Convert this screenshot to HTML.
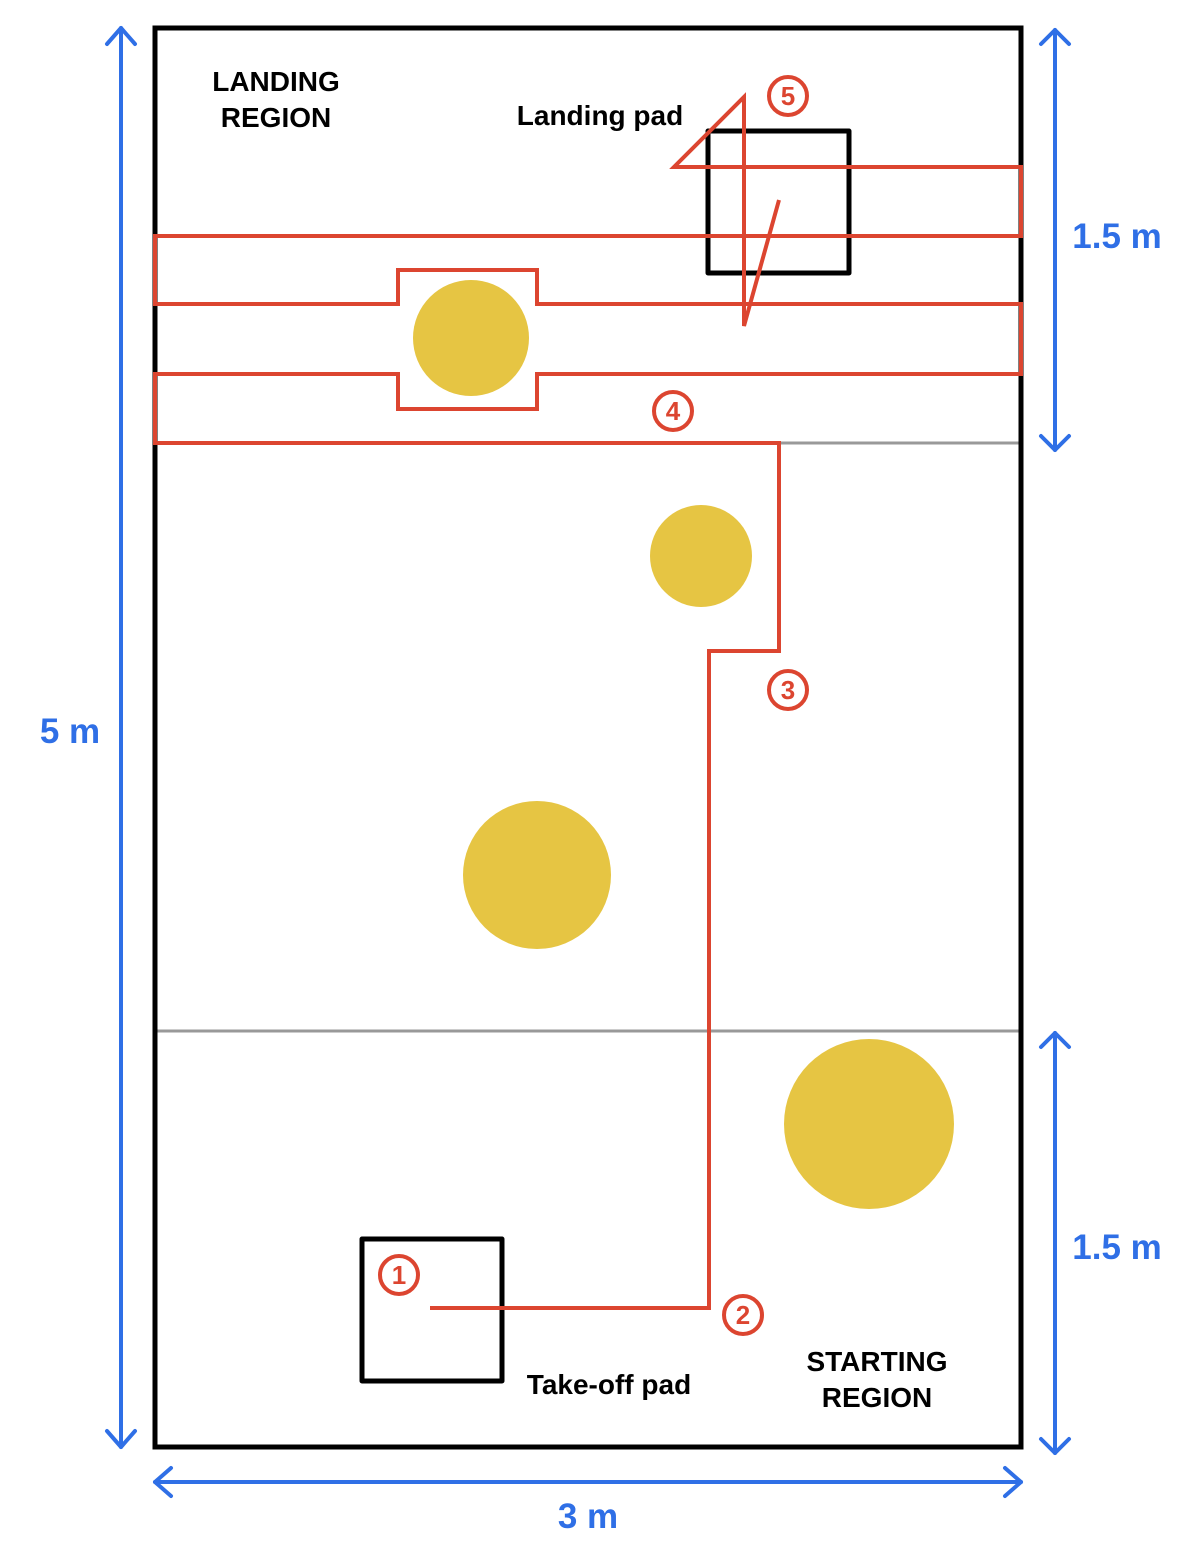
<!DOCTYPE html>
<html><head><meta charset="utf-8"><style>html,body{margin:0;padding:0;background:#fff}svg{display:block}</style></head>
<body>
<svg width="1202" height="1548" viewBox="0 0 1202 1548" xmlns="http://www.w3.org/2000/svg" font-family="Liberation Sans, sans-serif" font-weight="bold">
<rect x="0" y="0" width="1202" height="1548" fill="#fff"/>
<line x1="779" y1="443" x2="1021" y2="443" stroke="#999" stroke-width="3"/>
<line x1="155" y1="1031" x2="1021" y2="1031" stroke="#999" stroke-width="3"/>
<g fill="#e6c543">
<circle cx="471" cy="338" r="58"/>
<circle cx="701" cy="556" r="51"/>
<circle cx="537" cy="875" r="74"/>
<circle cx="869" cy="1124" r="85"/>
</g>
<rect x="708" y="131" width="141" height="142" fill="none" stroke="#000" stroke-width="5" stroke-linejoin="round"/>
<rect x="362" y="1239" width="140" height="142" fill="none" stroke="#000" stroke-width="5" stroke-linejoin="round"/>
<rect x="155" y="28" width="866" height="1419" fill="none" stroke="#000" stroke-width="5"/>
<polyline fill="none" stroke="#dc4530" stroke-width="4" stroke-linejoin="miter" points="430,1308 709,1308 709,651 779,651 779,443 155,443 155,374 398,374 398,409 537,409 537,374 1021,374 1021,304 537,304 537,270 398,270 398,304 155,304 155,236 1021,236 1021,167 674,167 744,97 744,326 779,200"/>
<g fill="none" stroke="#dc4530" stroke-width="4">
<circle cx="788" cy="96" r="19"/><circle cx="673" cy="411" r="19"/><circle cx="788" cy="690" r="19"/><circle cx="743" cy="1315" r="19"/><circle cx="399" cy="1275" r="19"/>
</g>
<g fill="#dc4530" font-size="26" text-anchor="middle">
<text x="788" y="105">5</text><text x="673" y="420">4</text><text x="788" y="699">3</text><text x="743" y="1324">2</text><text x="399" y="1284">1</text>
</g>
<g fill="none" stroke="#2f6fe6" stroke-width="4" stroke-linecap="round" stroke-linejoin="round">
<line x1="121" y1="28" x2="121" y2="1447"/><polyline points="107,44 121,28 135,44"/><polyline points="107,1431 121,1447 135,1431"/>
<line x1="1055" y1="30" x2="1055" y2="450"/><polyline points="1041,44 1055,30 1069,44"/><polyline points="1041,436 1055,450 1069,436"/>
<line x1="1055" y1="1033" x2="1055" y2="1453"/><polyline points="1041,1047 1055,1033 1069,1047"/><polyline points="1041,1439 1055,1453 1069,1439"/>
<line x1="155" y1="1482" x2="1021" y2="1482"/><polyline points="171,1468 155,1482 171,1496"/><polyline points="1005,1468 1021,1482 1005,1496"/>
</g>
<g fill="#2f6fe6" font-size="35" text-anchor="middle">
<text x="70" y="743">5 m</text><text x="1117" y="248">1.5 m</text><text x="1117" y="1259">1.5 m</text><text x="588" y="1528">3 m</text>
</g>
<g fill="#000" font-size="28" text-anchor="middle">
<text x="276" y="91">LANDING</text><text x="276" y="127">REGION</text>
<text x="600" y="125">Landing pad</text>
<text x="609" y="1394">Take-off pad</text>
<text x="877" y="1371">STARTING</text><text x="877" y="1407">REGION</text>
</g>
</svg>
</body></html>
